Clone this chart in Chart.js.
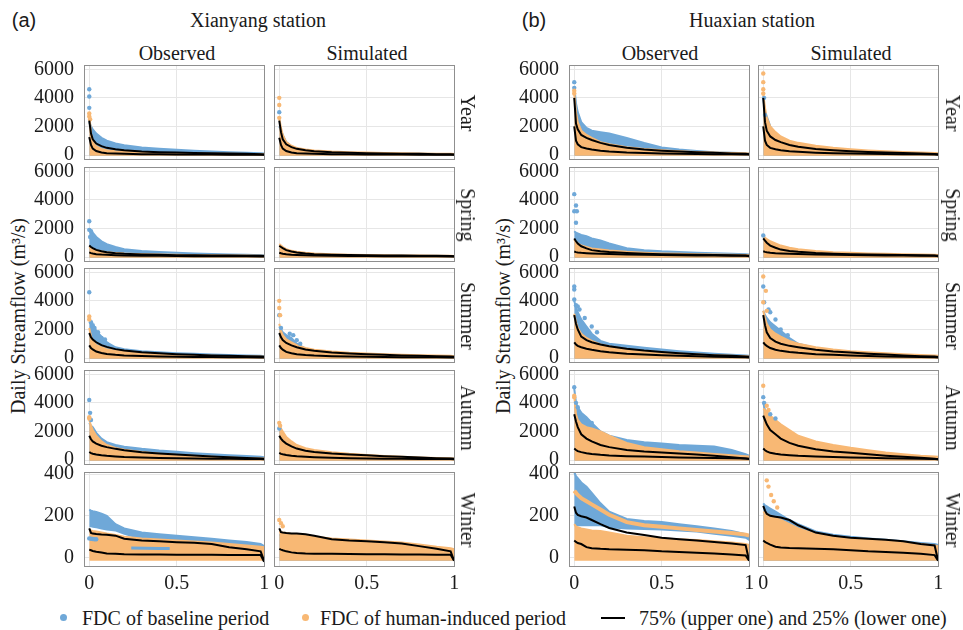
<!DOCTYPE html>
<html>
<head>
<meta charset="utf-8">
<script src="https://cdn.jsdelivr.net/npm/chart.js@4.4.0/dist/chart.umd.min.js"></script>
<style>
  body { margin: 0; width: 963px; height: 630px; position: relative; overflow: hidden; background: #fff;
         font-family: "Liberation Serif", "Tinos", "DejaVu Serif", serif; color: #1a1a1a; }
  .txt { position: absolute; white-space: nowrap; font-size: 20px; line-height: 1; }
  .ctr { transform: translate(-50%, -50%); }
  .rot90 { transform: translate(-50%, -50%) rotate(90deg); }
  .rotm90 { transform: translate(-50%, -50%) rotate(-90deg); }
  .panel { position: absolute; }
  .dot { display: inline-block; width: 7px; height: 7px; border-radius: 50%; position: absolute; }
  .dash { display: inline-block; width: 24px; height: 2px; background: #000; position: absolute; }
  .sans { font-family: "Liberation Sans", Arial, sans-serif; }
</style>
</head>
<body>
<div class="txt ctr sans" style="left:24px;top:20px;">(a)</div>
<div class="txt ctr" style="left:258px;top:20px;">Xianyang station</div>
<div class="txt ctr sans" style="left:534px;top:20px;">(b)</div>
<div class="txt ctr" style="left:752px;top:20px;">Huaxian station</div>
<div class="txt ctr" style="left:177px;top:53px;">Observed</div>
<div class="txt ctr" style="left:367px;top:53px;">Simulated</div>
<div class="txt ctr" style="left:660px;top:53px;">Observed</div>
<div class="txt ctr" style="left:851px;top:53px;">Simulated</div>
<div class="txt rotm90" style="left:18px;top:316px;">Daily Streamflow (m³/s)</div>
<div class="txt rotm90" style="left:503px;top:316px;">Daily Streamflow (m³/s)</div>

<div class="dot" style="left:60px;top:614px;background:#6fa8d8;"></div>
<div class="txt" style="left:82px;top:608px;">FDC of baseline period</div>
<div class="dot" style="left:302px;top:614px;background:#f8b874;"></div>
<div class="txt" style="left:320px;top:608px;">FDC of human-induced period</div>
<div class="dash" style="left:601px;top:617px;"></div>
<div class="txt" style="left:639px;top:608px;">75% (upper one) and 25% (lower one)</div>

<script>
// exceedance probability grid shared by all FDC curves
const exceedance = [0, 0.01, 0.02, 0.04, 0.07, 0.1, 0.15, 0.2, 0.3, 0.4, 0.5, 0.6, 0.7, 0.8, 0.9, 0.98, 1];
const seasons = ["Year", "Spring", "Summer", "Autumn", "Winter"];
const flowTicks = [0, 2000, 4000, 6000];
const winterTicks = [0, 200, 400];
const probTicks = [0, 0.5, 1];
const bandFloor = [-60, -60, -60, -60, -15];

// Xianyang - observed
const xyObsBlue = [
  [2300, 2000, 1800, 1500, 1200, 1000, 800, 680, 520, 430, 360, 300, 250, 200, 160, 130, 110],
  [2000, 1800, 1700, 1400, 1100, 900, 700, 550, 420, 350, 290, 250, 210, 180, 150, 130, 120],
  [2500, 2400, 2300, 1900, 1500, 1100, 750, 620, 480, 400, 340, 290, 250, 210, 170, 150, 130],
  [2600, 2400, 2300, 1900, 1500, 1250, 1050, 930, 780, 660, 570, 480, 400, 340, 280, 230, 200],
  [230, 225, 222, 218, 210, 200, 160, 140, 120, 112, 105, 98, 90, 82, 75, 65, 55]
];
const xyObsBlueLow = [null, null, null, null,
  [145, 145, 143, 140, 135, 130, 125, 110, 85, 80, 75, 72, 66, 55, 45, 35, 30]];
const xyObsOrange = [
  [2900, 1500, 900, 600, 420, 330, 260, 220, 170, 140, 120, 100, 90, 80, 70, 60, 50],
  [700, 600, 550, 450, 380, 330, 280, 240, 200, 170, 150, 130, 120, 110, 100, 90, 80],
  [2100, 1500, 1200, 900, 750, 620, 500, 430, 320, 260, 210, 180, 150, 130, 110, 100, 90],
  [2800, 2400, 2100, 1700, 1300, 1050, 850, 720, 560, 440, 350, 280, 220, 170, 130, 110, 100],
  [135, 130, 128, 125, 120, 115, 108, 100, 92, 87, 82, 77, 72, 65, 58, 52, 50]
];
const xyObsOrangeLine = [null, null, null, null, null];
const xyObsP75 = [
  [2400, 1500, 1100, 800, 620, 500, 400, 330, 250, 200, 170, 140, 120, 100, 80, 60, 40],
  [800, 700, 620, 500, 400, 330, 260, 220, 180, 150, 130, 120, 110, 100, 90, 80, 70],
  [1750, 1450, 1300, 1100, 900, 780, 620, 520, 400, 330, 270, 220, 180, 150, 120, 100, 80],
  [1700, 1450, 1300, 1150, 1000, 900, 780, 680, 540, 450, 380, 310, 250, 190, 140, 110, 90],
  [140, 118, 115, 113, 111, 110, 105, 90, 82, 78, 74, 71, 65, 50, 40, 30, -15]
];
const xyObsP25 = [
  [1250, 700, 450, 280, 180, 130, 100, 80, 60, 50, 40, 35, 30, 25, 20, 15, 10],
  [320, 270, 240, 200, 170, 150, 130, 110, 90, 80, 70, 60, 55, 50, 45, 40, 30],
  [880, 700, 600, 450, 350, 280, 220, 180, 140, 110, 90, 75, 65, 55, 45, 40, 30],
  [560, 480, 440, 390, 340, 300, 250, 210, 170, 140, 120, 105, 95, 85, 75, 70, 60],
  [38, 35, 32, 28, 24, 20, 18, 16, 15, 15, 14, 14, 14, 13, 13, 12, -20]
];
const xyObsBlueDots = [
  [[0, 4600], [0, 4100], [0, 3300]],
  [[0, 2500], [0, 1900], [0.01, 1800], [0.005, 1400]],
  [[0, 4600], [0.01, 2500], [0.02, 2300], [0.03, 2100], [0.05, 1800], [0.07, 1400], [0.09, 1300], [0.1, 1000]],
  [[0, 4200], [0.005, 3300], [0.01, 2800]],
  [[0, 92], [0.01, 90], [0.02, 89], [0.03, 88], [0.04, 88]]
];
// short blue segment inside the orange band (Xianyang observed, winter)
const xyObsBlueLine = [null, null, null, null, [[0.24, 46], [0.32, 45], [0.4, 44], [0.46, 44]]];
const xyObsOrangeDots = [
  [[0, 2900], [0, 2700], [0.005, 2500]],
  [],
  [[0, 2900], [0, 2700]],
  [[0, 3000], [0, 2900]],
  []
];

// Xianyang - simulated
const xySimBlue = [
  [2000, 1700, 1400, 900, 600, 450, 330, 270, 200, 160, 130, 110, 90, 80, 70, 60, 50],
  [600, 500, 450, 350, 280, 230, 190, 160, 130, 110, 100, 90, 80, 70, 60, 55, 50],
  [2200, 2000, 1800, 1600, 1400, 1000, 650, 480, 350, 280, 230, 190, 160, 130, 110, 100, 90],
  [2200, 1900, 1700, 1300, 1000, 800, 600, 480, 370, 300, 250, 210, 180, 150, 120, 100, 90],
  [110, 108, 106, 103, 100, 95, 85, 60, 50, 45, 40, 35, 30, 25, 20, 15, 10]
];
const xySimBlueLow = [null, null, null, null, null];
const xySimOrange = [
  [2600, 1900, 1400, 900, 650, 500, 380, 320, 240, 200, 170, 140, 120, 100, 90, 80, 70],
  [900, 800, 700, 550, 430, 360, 290, 240, 190, 160, 140, 125, 110, 100, 90, 80, 70],
  [2400, 1900, 1600, 1300, 1100, 900, 700, 580, 450, 370, 320, 270, 230, 200, 170, 150, 130],
  [2500, 2200, 2000, 1600, 1300, 1050, 830, 700, 540, 430, 350, 280, 230, 180, 140, 120, 110],
  [125, 122, 120, 117, 113, 110, 105, 100, 92, 87, 82, 77, 72, 63, 52, 45, 40]
];
const xySimOrangeLine = [null, null, null, null, null];
const xySimP75 = [
  [2400, 1600, 1100, 750, 550, 430, 330, 270, 200, 160, 130, 110, 90, 80, 60, 50, 30],
  [780, 700, 620, 480, 380, 310, 240, 200, 160, 140, 120, 110, 100, 90, 80, 70, 60],
  [1750, 1450, 1250, 1050, 880, 750, 600, 500, 380, 310, 260, 220, 180, 150, 120, 100, 80],
  [1700, 1500, 1350, 1150, 950, 800, 650, 560, 450, 380, 330, 270, 220, 170, 130, 100, 80],
  [140, 122, 120, 118, 116, 115, 112, 105, 88, 82, 78, 74, 68, 55, 42, 30, -15]
];
const xySimP25 = [
  [1200, 700, 450, 280, 180, 130, 100, 80, 60, 50, 40, 35, 30, 25, 20, 15, 10],
  [300, 260, 230, 190, 160, 140, 120, 100, 85, 75, 65, 60, 55, 50, 45, 40, 30],
  [880, 700, 580, 430, 330, 270, 210, 170, 130, 100, 85, 70, 60, 50, 45, 40, 30],
  [500, 430, 400, 350, 300, 260, 220, 190, 150, 120, 100, 90, 80, 75, 70, 65, 60],
  [42, 38, 35, 30, 25, 22, 20, 19, 18, 17, 16, 16, 15, 15, 14, 14, -15]
];
const xySimBlueDots = [
  [[0, 3000]],
  [],
  [[0, 3000], [0.01, 2100], [0.06, 1700], [0.08, 1600], [0.1, 1250], [0.12, 1000]],
  [[0, 2200]],
  []
];
const xySimBlueLine = [null, null, null, null, null];
const xySimOrangeDots = [
  [[0, 4000], [0, 3500], [0, 2600]],
  [],
  [[0, 4000], [0, 3500], [0.005, 3000]],
  [[0, 2600], [0.005, 2400]],
  [[0, 180], [0.01, 165], [0.02, 150]]
];

// Huaxian - observed
const hxObsBlue = [
  [4800, 3600, 3000, 2300, 1900, 1700, 1600, 1500, 1200, 850, 530, 380, 280, 200, 150, 120, 100],
  [1800, 1700, 1650, 1550, 1450, 1300, 1150, 950, 620, 480, 400, 350, 300, 260, 220, 200, 180],
  [4000, 3500, 3200, 2700, 2200, 1700, 1200, 1000, 850, 720, 600, 480, 380, 300, 220, 170, 150],
  [5000, 4000, 3700, 3300, 3000, 2600, 2000, 1700, 1400, 1250, 1150, 1050, 1000, 950, 700, 400, 300],
  [410, 390, 380, 360, 340, 310, 260, 220, 185, 175, 170, 160, 150, 140, 128, 112, 100]
];
const hxObsBlueLow = [null, null, null, null,
  [150, 150, 150, 150, 150, 150, 150, 140, 135, 132, 130, 125, 120, 110, 100, 90, 80]];
const hxObsOrange = [
  [4300, 3000, 2300, 1700, 1400, 1200, 900, 750, 550, 420, 330, 260, 210, 170, 140, 120, 100],
  [1200, 1050, 950, 800, 700, 600, 520, 450, 360, 300, 250, 220, 190, 170, 150, 140, 130],
  [3100, 2500, 2100, 1700, 1400, 1200, 950, 800, 600, 480, 380, 300, 240, 190, 150, 120, 100],
  [4500, 3200, 2800, 2500, 2300, 2200, 2000, 1700, 1200, 900, 750, 620, 520, 420, 330, 270, 250],
  [160, 150, 145, 140, 135, 130, 128, 120, 105, 98, 92, 88, 84, 78, 72, 65, 60]
];
const hxObsOrangeLine = [null, null, null, null,
  [320, 310, 300, 285, 270, 255, 230, 205, 170, 155, 148, 140, 132, 125, 118, 110, 105]];
const hxObsP75 = [
  [4000, 2200, 1800, 1400, 1200, 1050, 850, 700, 500, 380, 300, 240, 190, 150, 110, 80, 60],
  [1300, 1100, 950, 750, 600, 480, 400, 350, 280, 230, 200, 180, 160, 140, 120, 100, 80],
  [3000, 2400, 2000, 1500, 1250, 1100, 950, 830, 650, 520, 420, 330, 260, 200, 150, 110, 80],
  [3200, 2700, 2300, 1800, 1500, 1300, 1050, 900, 700, 600, 530, 450, 380, 300, 200, 100, 70],
  [245, 215, 205, 198, 192, 180, 160, 142, 120, 108, 95, 88, 82, 75, 68, 60, -15]
];
const hxObsP25 = [
  [2000, 1000, 750, 550, 450, 380, 300, 250, 180, 140, 110, 90, 70, 60, 50, 40, 30],
  [380, 340, 320, 290, 270, 250, 230, 210, 180, 160, 140, 125, 110, 100, 90, 80, 60],
  [1100, 950, 850, 750, 650, 580, 480, 400, 300, 240, 190, 150, 120, 95, 75, 60, 40],
  [800, 700, 620, 550, 480, 420, 360, 320, 270, 240, 210, 180, 160, 140, 120, 100, 80],
  [82, 75, 70, 65, 50, 45, 42, 40, 38, 35, 30, 27, 23, 20, 15, 10, -15]
];
const hxObsBlueDots = [
  [[0, 5100], [0, 4700]],
  [[0, 4400], [0.01, 3600], [0, 3200], [0.015, 3200], [0.01, 2400]],
  [[0, 5000], [0, 4800], [0, 4100], [0.01, 3700], [0.02, 3600], [0.03, 3400], [0.06, 2800], [0.1, 2200], [0.13, 1800]],
  [[0, 5100], [0.01, 4000], [0.02, 3700], [0.03, 3300], [0.06, 2900], [0.08, 2700], [0.1, 2600]],
  []
];
const hxObsBlueLine = [null, null, null, null, null];
const hxObsOrangeDots = [
  [[0, 4500], [0, 4300]],
  [],
  [],
  [[0, 4500], [0, 4400]],
  []
];

// Huaxian - simulated
const hxSimBlue = [
  [4000, 3000, 2700, 2000, 1400, 1100, 800, 650, 450, 350, 280, 220, 180, 150, 120, 100, 80],
  [1500, 1300, 1200, 1000, 850, 650, 500, 400, 300, 250, 210, 180, 160, 140, 120, 110, 100],
  [3300, 3000, 2800, 2500, 2200, 1900, 1400, 1000, 700, 550, 430, 340, 270, 210, 160, 130, 110],
  [4000, 3500, 3200, 2800, 2400, 2000, 1600, 1300, 1000, 800, 650, 500, 400, 300, 200, 150, 120],
  [260, 250, 245, 235, 220, 205, 180, 160, 125, 110, 100, 92, 85, 78, 70, 65, 60]
];
const hxSimBlueLow = [null, null, null, null, null];
const hxSimOrange = [
  [4300, 3300, 2600, 2000, 1600, 1300, 1000, 850, 650, 500, 400, 320, 260, 210, 170, 140, 120],
  [1500, 1350, 1250, 1100, 950, 800, 650, 550, 420, 340, 290, 250, 220, 190, 170, 150, 140],
  [3300, 2800, 2400, 2000, 1700, 1500, 1200, 1000, 750, 600, 480, 400, 330, 270, 210, 180, 160],
  [3600, 3500, 3400, 3100, 2800, 2500, 2100, 1700, 1300, 1050, 850, 680, 520, 400, 300, 250, 220],
  [220, 215, 210, 200, 190, 180, 160, 140, 112, 100, 92, 85, 80, 72, 65, 58, 55]
];
const hxSimOrangeLine = [null, null, null, null, null];
const hxSimP75 = [
  [4000, 2300, 1700, 1300, 1050, 900, 700, 580, 420, 330, 260, 210, 170, 140, 100, 70, 50],
  [1300, 1150, 1000, 800, 650, 520, 420, 360, 280, 230, 200, 180, 160, 140, 120, 100, 80],
  [3000, 2300, 1800, 1400, 1150, 1000, 850, 750, 570, 460, 380, 300, 240, 180, 130, 100, 70],
  [3100, 2800, 2500, 2100, 1800, 1500, 1200, 1000, 750, 600, 500, 400, 300, 220, 150, 80, 50],
  [248, 225, 210, 200, 196, 192, 180, 155, 120, 105, 95, 90, 85, 78, 65, 58, -15]
];
const hxSimP25 = [
  [2000, 1000, 700, 500, 400, 330, 260, 220, 160, 120, 100, 80, 65, 55, 45, 35, 25],
  [400, 360, 330, 300, 270, 250, 230, 210, 180, 160, 140, 125, 110, 100, 90, 80, 60],
  [1100, 950, 850, 700, 580, 500, 420, 360, 270, 220, 180, 140, 110, 90, 70, 55, 40],
  [800, 680, 600, 500, 440, 390, 340, 300, 250, 210, 180, 150, 130, 110, 90, 70, 50],
  [82, 75, 70, 62, 52, 48, 46, 45, 43, 40, 35, 30, 27, 23, 18, 12, -15]
];
const hxSimBlueDots = [
  [[0.005, 4000], [0.01, 2800]],
  [[0, 1500]],
  [[0, 5000], [0.005, 3900], [0.03, 3400], [0.04, 3200], [0.07, 2700], [0.1, 2000], [0.14, 1600]],
  [[0, 4400], [0.005, 4000], [0.04, 3200], [0.07, 2900]],
  []
];
const hxSimBlueLine = [null, null, null, null, null];
const hxSimOrangeDots = [
  [[0, 5700], [0, 5100], [0, 4600], [0, 4300]],
  [],
  [[0, 5700], [0.015, 4700], [0, 3900], [0.02, 3300]],
  [[0, 5200], [0.02, 3800], [0.03, 3500]],
  [[0.02, 370], [0.03, 340], [0.045, 300], [0.06, 270], [0.08, 240]]
];

const BLUE = "#6fa8d8";
const ORANGE = "#f8b874";
const SERIF = "'Liberation Serif', 'Tinos', 'DejaVu Serif', serif";

const columns = [
  { left: 84,  blue: xyObsBlue, blueLow: xyObsBlueLow, blueLine: xyObsBlueLine, orange: xyObsOrange, orangeLine: xyObsOrangeLine, p75: xyObsP75, p25: xyObsP25, blueDots: xyObsBlueDots, orangeDots: xyObsOrangeDots, yLabels: true },
  { left: 274, blue: xySimBlue, blueLow: xySimBlueLow, blueLine: xySimBlueLine, orange: xySimOrange, orangeLine: xySimOrangeLine, p75: xySimP75, p25: xySimP25, blueDots: xySimBlueDots, orangeDots: xySimOrangeDots, yLabels: false, rowLabelX: 468 },
  { left: 569, blue: hxObsBlue, blueLow: hxObsBlueLow, blueLine: hxObsBlueLine, orange: hxObsOrange, orangeLine: hxObsOrangeLine, p75: hxObsP75, p25: hxObsP25, blueDots: hxObsBlueDots, orangeDots: hxObsOrangeDots, yLabels: true },
  { left: 758, blue: hxSimBlue, blueLow: hxSimBlueLow, blueLine: hxSimBlueLine, orange: hxSimOrange, orangeLine: hxSimOrangeLine, p75: hxSimP75, p25: hxSimP25, blueDots: hxSimBlueDots, orangeDots: hxSimOrangeDots, yLabels: false, rowLabelX: 953 }
];
const rowTop = [65, 167, 268, 370, 472];
const boxW = 181, boxH = 95;
const padL = 62, padT = 8, padR = 8, padB = 34;

Chart.defaults.font.family = SERIF;
Chart.defaults.font.size = 20;
Chart.defaults.color = "#1a1a1a";

const toXY = (vals) => vals.map((v, i) => ({ x: exceedance[i], y: v }));
const toPts = (pairs) => pairs.map(([x, y]) => ({ x, y }));

// full box around the plot area, like the original figure
const boxPlugin = {
  id: "box",
  afterDraw(chart) {
    const a = chart.chartArea, ctx = chart.ctx;
    ctx.save();
    ctx.strokeStyle = "#8f8f8f";
    ctx.lineWidth = 1;
    ctx.strokeRect(a.left + 0.5, a.top + 0.5, a.width - 1, a.height - 1);
    ctx.restore();
  }
};

function makePanel(col, row) {
  const winter = row === 4;
  const wrap = document.createElement("div");
  wrap.className = "panel";
  wrap.style.left = (col.left - padL) + "px";
  wrap.style.top = (rowTop[row] - padT) + "px";
  const canvas = document.createElement("canvas");
  canvas.width = boxW + padL + padR;
  canvas.height = boxH + padT + padB;
  wrap.appendChild(canvas);
  document.body.appendChild(wrap);

  const floor = bandFloor[row];
  const datasets = [
    { data: toXY(col.p75[row]), showLine: true, borderColor: "#000", borderWidth: 2, pointRadius: 0 },
    { data: toXY(col.p25[row]), showLine: true, borderColor: "#000", borderWidth: 2, pointRadius: 0 },
    { data: toPts(col.orangeDots[row]), pointRadius: 2.2, pointBackgroundColor: ORANGE, pointBorderWidth: 0 },
    { data: toPts(col.blueDots[row]), pointRadius: 2.2, pointBackgroundColor: BLUE, pointBorderWidth: 0 }
  ];
  if (col.blueLine[row]) {
    datasets.push({ data: toPts(col.blueLine[row]), showLine: true, borderColor: BLUE, borderWidth: 3, pointRadius: 0 });
  }
  if (col.orangeLine[row]) {
    datasets.push({ data: toXY(col.orangeLine[row]), showLine: true, borderColor: ORANGE, borderWidth: 4, pointRadius: 0 });
  }
  datasets.push({ data: toXY(col.orange[row]), showLine: true, borderColor: ORANGE, borderWidth: 2,
    backgroundColor: ORANGE, pointRadius: 0, fill: { value: floor } });
  if (col.blueLow[row]) {
    datasets.push({ data: toXY(col.blue[row]), showLine: true, borderColor: BLUE, borderWidth: 2,
      backgroundColor: BLUE, pointRadius: 0, fill: "+1" });
    datasets.push({ data: toXY(col.blueLow[row]), showLine: true, borderColor: "rgba(0,0,0,0)", borderWidth: 0, pointRadius: 0 });
  } else {
    datasets.push({ data: toXY(col.blue[row]), showLine: true, borderColor: BLUE, borderWidth: 2,
      backgroundColor: BLUE, pointRadius: 0, fill: { value: floor } });
  }

  const yTicks = winter ? winterTicks : flowTicks;
  new Chart(canvas, {
    type: "scatter",
    data: { datasets },
    options: {
      responsive: false,
      animation: false,
      events: [],
      elements: { line: { tension: 0 } },
      layout: { padding: { left: 0, top: padT, right: padR, bottom: 0 } },
      plugins: { legend: { display: false }, tooltip: { enabled: false } },
      scales: {
        x: {
          type: "linear", min: -0.03, max: 1.005,
          afterBuildTicks: (s) => { s.ticks = probTicks.map((v) => ({ value: v })); },
          afterFit: (s) => { s.height = padB; s.paddingLeft = 0; s.paddingRight = 0; },
          grid: { color: "#e6e6e6", drawTicks: false },
          border: { display: false },
          ticks: { display: row === 4, padding: 5, callback: (v) => String(v) }
        },
        y: {
          type: "linear",
          min: winter ? -45 : -350, max: winter ? 410 : 6300,
          afterBuildTicks: (s) => { s.ticks = yTicks.map((v) => ({ value: v })); },
          afterFit: (s) => { s.width = padL; s.paddingTop = 0; s.paddingBottom = 0; },
          grid: { color: "#e6e6e6", drawTicks: false },
          border: { display: false },
          ticks: { display: col.yLabels, padding: 10, callback: (v) => String(v) }
        }
      }
    },
    plugins: [boxPlugin]
  });

  if (col.rowLabelX) {
    const lbl = document.createElement("div");
    lbl.className = "txt rot90";
    lbl.style.left = col.rowLabelX + "px";
    lbl.style.top = (rowTop[row] + boxH / 2) + "px";
    lbl.textContent = seasons[row];
    document.body.appendChild(lbl);
  }
}

columns.forEach((col) => seasons.forEach((s, row) => makePanel(col, row)));
</script>
</body>
</html>
